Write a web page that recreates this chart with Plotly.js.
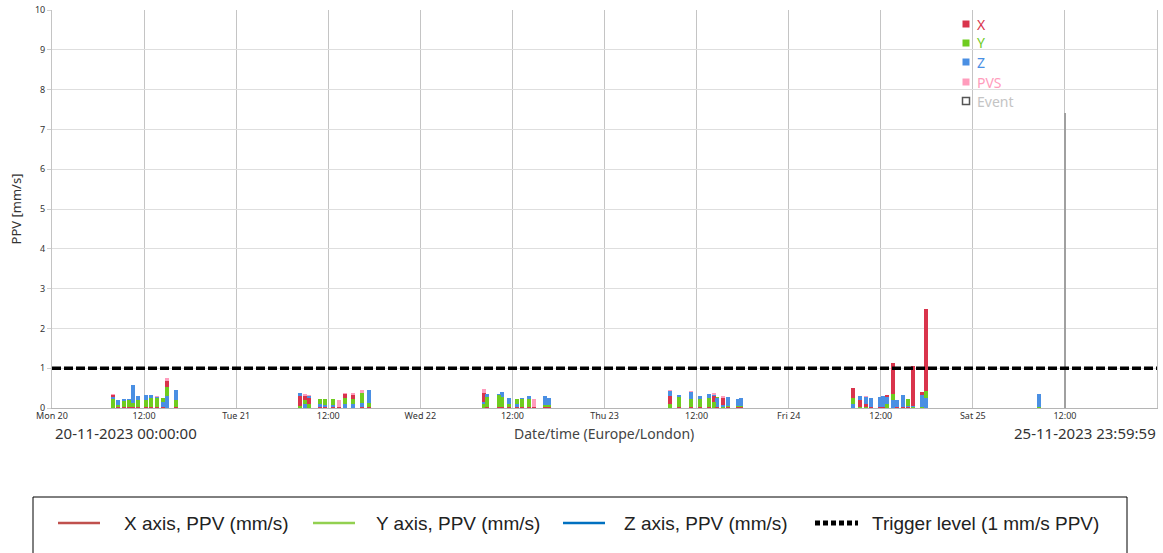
<!DOCTYPE html>
<html>
<head>
<meta charset="utf-8">
<script src="https://cdn.plot.ly/plotly-3.0.1.min.js"></script>
<style>
html,body{margin:0;padding:0;background:#fff;}
#chart{width:1163px;height:553px;}
</style>
</head>
<body>
<div id="chart"></div>
<script>
// ---- data ----
const eventTimes = [
  '2023-11-20 08:00','2023-11-20 08:37','2023-11-20 09:23','2023-11-20 10:03','2023-11-20 10:32','2023-11-20 11:15',
  '2023-11-20 12:16','2023-11-20 12:55','2023-11-20 13:39','2023-11-20 14:26','2023-11-20 15:02','2023-11-20 16:10',
  '2023-11-21 08:21','2023-11-21 09:00','2023-11-21 09:31','2023-11-21 10:57','2023-11-21 11:36','2023-11-21 12:36',
  '2023-11-21 13:21','2023-11-21 14:13','2023-11-21 15:13','2023-11-21 16:24','2023-11-21 17:15',
  '2023-11-22 08:15','2023-11-22 08:42','2023-11-22 10:13','2023-11-22 10:39','2023-11-22 11:36','2023-11-22 12:39',
  '2023-11-22 13:16','2023-11-22 14:13','2023-11-22 14:52','2023-11-22 16:18','2023-11-22 16:44',
  '2023-11-23 08:31','2023-11-23 09:41','2023-11-23 11:18','2023-11-23 12:26','2023-11-23 13:36','2023-11-23 14:15',
  '2023-11-23 14:41','2023-11-23 15:28','2023-11-23 16:07','2023-11-23 17:22','2023-11-23 17:44',
  '2023-11-24 08:26','2023-11-24 09:17','2023-11-24 10:02','2023-11-24 10:47','2023-11-24 11:54','2023-11-24 12:21',
  '2023-11-24 12:52','2023-11-24 13:34','2023-11-24 14:05','2023-11-24 14:57','2023-11-24 15:33','2023-11-24 16:15',
  '2023-11-24 17:26','2023-11-24 17:52',
  '2023-11-25 08:39'
];
const ppvX = [
  0.32,0.02,0.02,0.02,0.02,0.02,0.02,0.02,0.02,0.02,0.67,0.02,
  0.30,0.30,0.26,0.02,0.02,0.02,0.02,0.35,0.33,0.02,0.02,
  0.38,0.02,0.02,0.02,0.02,0.02,0.02,0.02,0.02,0.02,0.02,
  0.30,0.02,0.02,0.02,0.02,0.30,0.02,0.25,0.02,0.02,0.02,
  0.50,0.19,0.10,0.02,0.02,0.02,0.33,1.13,0.02,0.02,0.02,1.05,0.40,2.50,
  0.02
];
const ppvY = [
  0.22,0.08,0.18,0.20,0.12,0.21,0.20,0.25,0.25,0.25,0.54,0.21,
  0.05,0.20,0.10,0.23,0.22,0.23,0.03,0.25,0.22,0.38,0.12,
  0.10,0.28,0.33,0.28,0.10,0.23,0.23,0.22,0.03,0.08,0.08,
  0.10,0.28,0.22,0.22,0.25,0.15,0.27,0.03,0.06,0.06,0.06,
  0.25,0.03,0.03,0.03,0.03,0.03,0.10,0.36,0.03,0.03,0.22,0.03,0.03,0.42,
  0.02
];
const ppvZ = [
  0.27,0.21,0.22,0.23,0.58,0.31,0.32,0.33,0.27,0.15,0.30,0.44,
  0.38,0.10,0.31,0.10,0.08,0.08,0.03,0.10,0.10,0.12,0.46,
  0.15,0.36,0.35,0.40,0.25,0.10,0.25,0.30,0.03,0.29,0.25,
  0.42,0.33,0.39,0.31,0.35,0.33,0.25,0.08,0.27,0.23,0.25,
  0.10,0.29,0.28,0.25,0.28,0.29,0.27,0.20,0.19,0.33,0.05,0.05,0.33,0.25,
  0.36
];
const ppvPVS = [
  0.34,0.21,0.22,0.23,0.58,0.31,0.32,0.33,0.30,0.25,0.75,0.44,
  0.38,0.36,0.33,0.23,0.22,0.23,0.20,0.37,0.37,0.44,0.46,
  0.48,0.36,0.35,0.40,0.25,0.23,0.25,0.30,0.23,0.29,0.25,
  0.45,0.33,0.42,0.31,0.35,0.37,0.27,0.30,0.27,0.23,0.25,
  0.50,0.29,0.30,0.25,0.28,0.29,0.33,1.13,0.19,0.33,0.22,1.05,0.40,2.50,
  0.36
];
const markerTimes = ['2023-11-25 12:00'];
const markerValues = [7.4];
const triggerLevel = 1;
const rangeStart = '2023-11-20 00:00';
const rangeEnd = '2023-11-26 00:00';
const tickVals = ['2023-11-20 00:00','2023-11-20 12:00','2023-11-21 00:00','2023-11-21 12:00','2023-11-22 00:00','2023-11-22 12:00',
  '2023-11-23 00:00','2023-11-23 12:00','2023-11-24 00:00','2023-11-24 12:00','2023-11-25 00:00','2023-11-25 12:00','2023-11-26 00:00'];
const tickText = ['Mon 20','12:00','Tue 21','12:00','Wed 22','12:00','Thu 23','12:00','Fri 24','12:00','Sat 25','12:00',''];
const startLabel = '20-11-2023 00:00:00';
const endLabel = '25-11-2023 23:59:59';

// ---- styling ----
const C = {X:'#d9344c', Y:'#6fcc1f', Z:'#4a8fe3', PVS:'#ff9cbc'};
const barW = 1.9e6;

// build overlay layers: largest value drawn first (behind), smaller in front
const nLayers = 4;
const layers = [];
for (let k=0;k<nLayers;k++) layers.push({y:[],c:[]});
for (let i=0;i<eventTimes.length;i++){
  const items = [
    {v:ppvPVS[i], c:C.PVS},
    {v:ppvX[i], c:C.X},
    {v:ppvY[i], c:C.Y},
    {v:ppvZ[i], c:C.Z}
  ].sort((a,b)=>b.v-a.v);
  for (let k=0;k<nLayers;k++){ layers[k].y.push(items[k].v); layers[k].c.push(items[k].c); }
}
const traces = [];
layers.forEach((L,k)=>{
  traces.push({type:'bar', x:eventTimes, y:L.y, width:eventTimes.map(()=>barW),
    marker:{color:L.c, line:{width:0}}, showlegend:false, hoverinfo:'x+y'});
});
traces.push({type:'bar', x:markerTimes, y:markerValues, width:markerTimes.map(()=>7e5),
  marker:{color:'#a0a0a0', line:{width:0}}, showlegend:false});
traces.push({type:'scatter', mode:'lines', x:[rangeStart, rangeEnd], y:[triggerLevel, triggerLevel],
  line:{color:'#000', width:3.5, dash:'9px,3px'}, showlegend:false, hoverinfo:'skip'});

// geometry helpers (plot area: x 52..1157, y 10..408)
const PL=52, PR=1157, PT=10, PB=408;
const px = v => (v-PL)/(PR-PL);
const py = v => (PB-v)/(PB-PT);

const annotations = [];
const shapes = [];

// inner legend
const inner = [
  {t:'X', c:C.X, y:24},
  {t:'Y', c:C.Y, y:43},
  {t:'Z', c:C.Z, y:62},
  {t:'PVS', c:C.PVS, y:82},
  {t:'Event', c:'#c4c4c4', y:101, hollow:true}
];
inner.forEach(it=>{
  shapes.push({type:'rect', xref:'paper', yref:'paper', xsizemode:'pixel', ysizemode:'pixel',
    xanchor:px(966), yanchor:py(it.y), x0:-3.5, x1:3.5, y0:-3.5, y1:3.5,
    fillcolor: it.hollow ? 'rgba(0,0,0,0)' : it.c, line:{color: it.hollow ? '#555' : it.c, width: it.hollow ? 1.5 : 0}});
  annotations.push({xref:'paper', yref:'paper', x:px(975), y:py(it.y), xanchor:'left', yanchor:'middle',
    text:it.t, showarrow:false, font:{family:'Noto Sans, Open Sans, sans-serif', size:14, color:it.c}});
});

// axis info labels
annotations.push({xref:'paper', yref:'paper', x:px(604), y:py(433), xanchor:'center', yanchor:'middle',
  text:'Date/time (Europe/London)', showarrow:false, font:{family:'Noto Sans, Open Sans, sans-serif', size:14, color:'#444'}});
annotations.push({xref:'paper', yref:'paper', x:px(53), y:py(433), xanchor:'left', yanchor:'middle',
  text:startLabel, showarrow:false, font:{family:'Noto Sans, Open Sans, sans-serif', size:15, color:'#333'}});
annotations.push({xref:'paper', yref:'paper', x:px(1158), y:py(433), xanchor:'right', yanchor:'middle',
  text:endLabel, showarrow:false, font:{family:'Noto Sans, Open Sans, sans-serif', size:15, color:'#333'}});

// bottom legend box
shapes.push({type:'rect', xref:'paper', yref:'paper', x0:px(33), x1:px(1127), y0:py(497), y1:py(560),
  line:{color:'#000', width:1}, fillcolor:'rgba(0,0,0,0)'});
const bottom = [
  {t:'X axis, PPV (mm/s)', c:'#c0504d', x0:58, x1:100, tx:122, dash:'solid', w:2.5},
  {t:'Y axis, PPV (mm/s)', c:'#92d050', x0:313, x1:355, tx:374, dash:'solid', w:2.5},
  {t:'Z axis, PPV (mm/s)', c:'#0070c0', x0:563, x1:605, tx:622, dash:'solid', w:2.5},
  {t:'Trigger level (1 mm/s PPV)', c:'#000', x0:815, x1:858, tx:870, dash:'5px,3px', w:5}
];
bottom.forEach(b=>{
  shapes.push({type:'line', xref:'paper', yref:'paper', x0:px(b.x0), x1:px(b.x1), y0:py(523), y1:py(523),
    line:{color:b.c, width:b.w, dash:b.dash}});
  annotations.push({xref:'paper', yref:'paper', x:px(b.tx), y:py(523), xanchor:'left', yanchor:'middle',
    text:b.t, showarrow:false, font:{family:'Liberation Sans Narrow, Arial Narrow, Liberation Sans, sans-serif', size:19, color:'#222'}});
});

const layout = {
  width:1163, height:553,
  margin:{l:PL, r:1163-PR, t:PT, b:553-PB, pad:0},
  paper_bgcolor:'#fff', plot_bgcolor:'#fff',
  barmode:'overlay', bargap:0,
  showlegend:false,
  font:{family:'Noto Sans, Open Sans, sans-serif', color:'#333'},
  xaxis:{type:'date', range:[rangeStart, rangeEnd], tickmode:'array', tickvals:tickVals, ticktext:tickText,
    showgrid:true, gridcolor:'#c4c4c4', gridwidth:1, showline:true, linecolor:'#b5b5b5', linewidth:1,
    ticks:'', ticklabelstandoff:-1, tickfont:{size:9, color:'#333', family:'Noto Sans, Open Sans, sans-serif'}, zeroline:false, fixedrange:true},
  yaxis:{range:[0,10], dtick:1, tick0:0, showgrid:true, gridcolor:'#dedede', gridwidth:1,
    showline:true, mirror:true, linecolor:'#c4c4c4', linewidth:1, ticks:'outside', ticklen:4, tickcolor:'#d0d0d0',
    tickfont:{size:9, color:'#333', family:'Noto Sans, Open Sans, sans-serif'}, zeroline:false,
    title:{text:'PPV [mm/s]', standoff:10, font:{size:13, color:'#333', family:'Noto Sans, Open Sans, sans-serif'}},
    automargin:false, fixedrange:true},
  shapes:shapes,
  annotations:annotations
};
Plotly.newPlot('chart', traces, layout, {displayModeBar:false, staticPlot:true});
</script>
</body>
</html>
